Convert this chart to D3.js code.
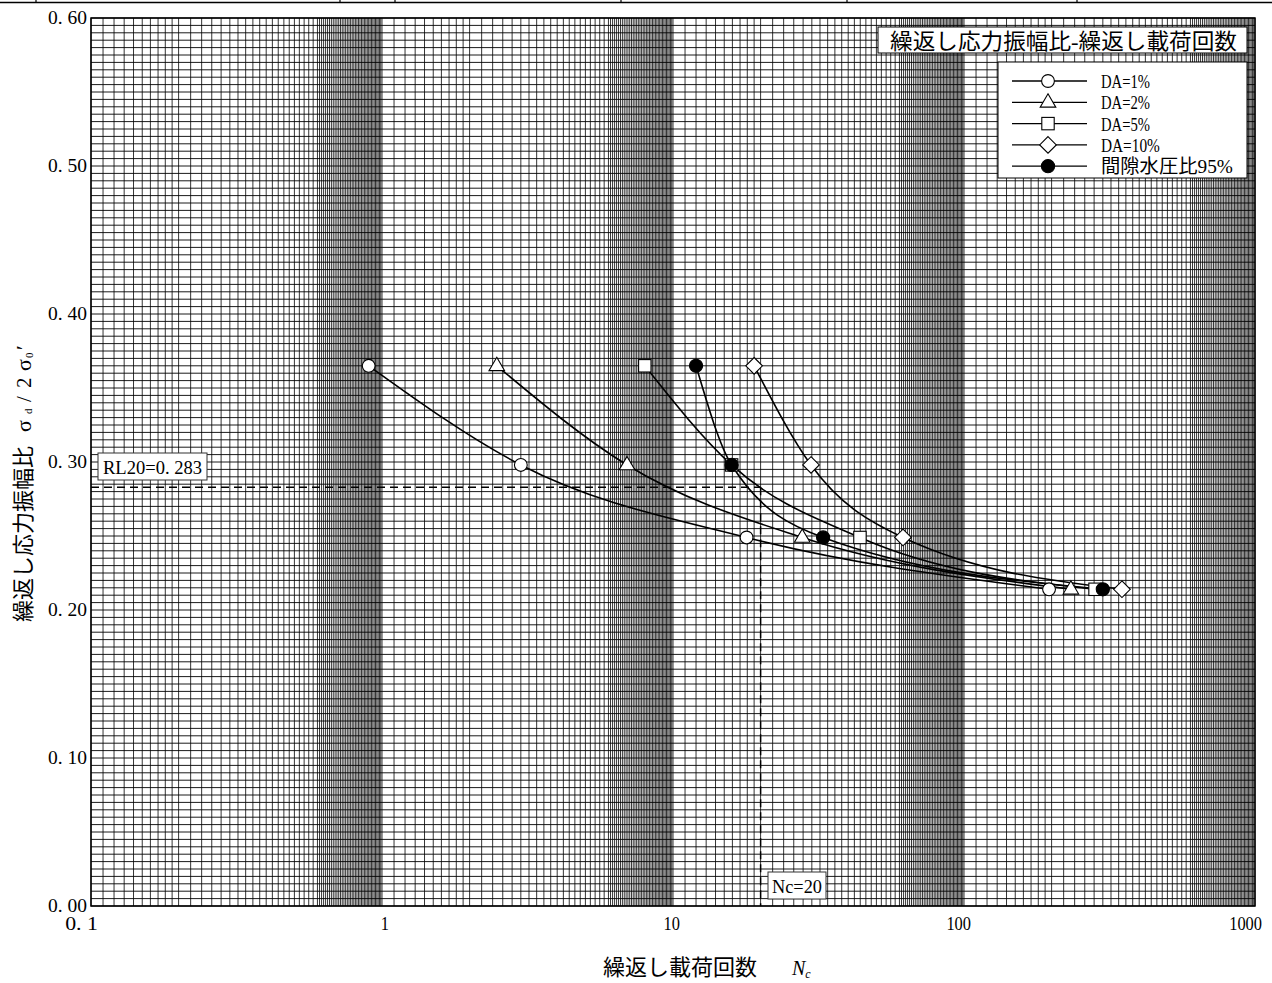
<!DOCTYPE html>
<html><head><meta charset="utf-8">
<script src="https://cdn.jsdelivr.net/npm/d3@7"></script>
<style>body{margin:0;background:#fff} svg{display:block}</style>
</head><body>
<svg id="chart" width="1272" height="983"></svg>
<script>
// ---------------- data ----------------
const yTicks = [0, 0.1, 0.2, 0.3, 0.4, 0.5, 0.6];
const yTickLabels = ["0. 00", "0. 10", "0. 20", "0. 30", "0. 40", "0. 50", "0. 60"];
const xTicks = [0.1, 1, 10, 100, 1000];
const xTickLabels = ["0. 1", "1", "10", "100", "1000"];
const stressRatio = [0.365, 0.298, 0.249, 0.214];
const ncDA1 = [0.90, 3.00, 17.9, 196];
const ncDA2 = [2.48, 6.95, 27.8, 233];
const ncDA5 = [8.0, 15.9, 43.9, 282];
const ncDA10 = [19.0, 29.8, 61.7, 349];
const ncPP95 = [12.0, 15.9, 32.8, 300];
const seriesNames = ["DA=1%", "DA=2%", "DA=5%", "DA=10%", "間隙水圧比95%"];
const seriesSymbols = ["circle", "triangle", "square", "diamond", "dot"];
const rl20 = 0.283;
const ncRef = 20;
const rlLabel = "RL20=0. 283";
const ncLabel = "Nc=20";
const chartTitle = "繰返し応力振幅比-繰返し載荷回数";
const xTitle = "繰返し載荷回数";
const yTitle = "繰返し応力振幅比";
const headerTicks = [36, 340, 395, 621, 847, 1077];

// ---------------- layout ----------------
const W = 1272, H = 983;
const L = 91, R = 1255, T = 18, B = 906;
const LAT = "'Liberation Serif','DejaVu Serif',serif";
const CJK = "'Liberation Serif','Noto Sans CJK JP',serif";

const svg = d3.select("#chart");
const x = d3.scaleLog().domain([0.1, 1000]).range([L, R]);
const y = d3.scaleLinear().domain([0, 0.6]).range([B, T]);

// header rule at top of page
svg.append("line").attr("x1", 0).attr("x2", W).attr("y1", 2.5).attr("y2", 2.5)
  .attr("stroke", "#000").attr("stroke-width", 1.5);
svg.selectAll(".htick").data(headerTicks).join("line")
  .attr("x1", d => d).attr("x2", d => d).attr("y1", 0).attr("y2", 3)
  .attr("stroke", "#000").attr("stroke-width", 1.2);

// ---------------- grid ----------------
const vGrid = [];
[0.1, 1, 10, 100].forEach(d => {
  for (let k = 10; k < 20; k++) vGrid.push(d * k / 10);
  for (let k = 20; k < 60; k += 2) vGrid.push(d * k / 10);
  for (let k = 60; k < 100; k++) vGrid.push(d * k / 10);
});
vGrid.push(1000);
const hGrid = d3.range(0, 121).map(i => i * 0.005);

const g = svg.append("g");
g.selectAll(".vg").data(vGrid).join("line")
  .attr("x1", d => x(d)).attr("x2", d => x(d)).attr("y1", T).attr("y2", B)
  .attr("stroke", "#000").attr("stroke-width", 0.8);
g.selectAll(".hg").data(hGrid).join("line")
  .attr("x1", L).attr("x2", R).attr("y1", d => y(d)).attr("y2", d => y(d))
  .attr("stroke", "#000").attr("stroke-width", 0.9);
svg.append("rect").attr("x", L).attr("y", T).attr("width", R - L).attr("height", B - T)
  .attr("fill", "none").attr("stroke", "#000").attr("stroke-width", 1.5);

// ---------------- helpers ----------------
function fitWidth(text, fs, halfW) {
  let w = 0;
  for (const ch of text) w += ch.charCodeAt(0) > 0x2000 ? fs : halfW;
  return w;
}

// tick labels
svg.selectAll(".yl").data(yTicks).join("text")
  .attr("x", 87).attr("y", d => y(d) + 6)
  .attr("text-anchor", "end").attr("font-family", LAT).attr("font-size", 18)
  .attr("textLength", (d, i) => fitWidth(yTickLabels[i], 18, 7.8))
  .attr("lengthAdjust", "spacingAndGlyphs")
  .text((d, i) => yTickLabels[i]);
svg.selectAll(".xl").data(xTicks).join("text")
  .attr("x", d => x(d) + 7).attr("y", 930)
  .attr("text-anchor", "end").attr("font-family", LAT).attr("font-size", 18)
  .attr("textLength", (d, i) => fitWidth(xTickLabels[i], 18, 8.2))
  .attr("lengthAdjust", "spacingAndGlyphs")
  .text((d, i) => xTickLabels[i]);

// axis titles
const xt = svg.append("text").attr("x", 603).attr("y", 975)
  .attr("font-family", CJK).attr("font-size", 22).attr("fill", "#000");
xt.append("tspan").text(xTitle);
xt.append("tspan").attr("x", 792).attr("font-family", LAT).attr("font-style", "italic")
  .attr("font-size", 20).text("N");
xt.append("tspan").attr("font-family", LAT).attr("font-style", "italic")
  .attr("font-size", 12).attr("dy", 3).text("c");

const yt = svg.append("text").attr("transform", "translate(31,622) rotate(-90)")
  .attr("font-family", CJK).attr("font-size", 22).attr("fill", "#000");
yt.append("tspan").text(yTitle);
yt.append("tspan").attr("x", 190).attr("font-family", LAT).attr("font-size", 22).text("σ");
yt.append("tspan").attr("x", 208).attr("font-size", 11).attr("font-family", LAT).attr("dy", 1).text("d");
yt.append("tspan").attr("x", 220).attr("dy", -1).attr("font-family", LAT).attr("font-size", 21).text("/");
yt.append("tspan").attr("x", 234).attr("font-family", LAT).attr("font-size", 21).text("2");
yt.append("tspan").attr("x", 251).attr("font-family", LAT).attr("font-size", 22).text("σ");
yt.append("tspan").attr("x", 264).attr("font-size", 11).attr("font-family", LAT).attr("dy", 2).text("0");
yt.append("tspan").attr("x", 272).attr("dy", -2).attr("font-family", LAT).attr("font-size", 22).text("′");

// ---------------- reference lines ----------------
svg.append("line").attr("x1", L).attr("x2", x(ncRef)).attr("y1", y(rl20)).attr("y2", y(rl20))
  .attr("stroke", "#000").attr("stroke-width", 1.5).attr("stroke-dasharray", "8,5");
svg.append("line").attr("x1", x(ncRef)).attr("x2", x(ncRef)).attr("y1", y(rl20)).attr("y2", B)
  .attr("stroke", "#000").attr("stroke-width", 1.5).attr("stroke-dasharray", "8,5");

function labelBox(bx, by, bw, bh, text, fs, tw, tx, ty, fontFam) {
  svg.append("rect").attr("x", bx).attr("y", by).attr("width", bw).attr("height", bh)
    .attr("fill", "#fff").attr("stroke", "#333").attr("stroke-width", 1);
  svg.append("text").attr("x", tx).attr("y", ty).attr("font-family", fontFam)
    .attr("font-size", fs).attr("textLength", tw).attr("lengthAdjust", "spacingAndGlyphs")
    .text(text);
}
labelBox(98, 453, 109, 27, rlLabel, 19, 99, 103, 474, LAT);
labelBox(768, 872, 58, 27, ncLabel, 19, 50, 772, 893, LAT);

// ---------------- series ----------------
const seriesNc = [ncDA1, ncDA2, ncDA5, ncDA10, ncPP95];
const lineGen = d3.line().x(d => x(d[0])).y(d => y(d[1])).curve(d3.curveMonotoneX);

function drawMarker(sel, type, cx, cy) {
  let el;
  if (type === "circle" || type === "dot") {
    el = sel.append("circle").attr("cx", cx).attr("cy", cy).attr("r", type === "dot" ? 6.6 : 6.4);
  } else if (type === "triangle") {
    el = sel.append("path").attr("d", `M${cx},${cy - 8.5}L${cx + 7.8},${cy + 4.8}L${cx - 7.8},${cy + 4.8}Z`);
  } else if (type === "square") {
    el = sel.append("rect").attr("x", cx - 6.2).attr("y", cy - 6.2).attr("width", 12.4).attr("height", 12.4);
  } else {
    el = sel.append("path").attr("d", `M${cx},${cy - 8.3}L${cx + 8.3},${cy}L${cx},${cy + 8.3}L${cx - 8.3},${cy}Z`);
  }
  el.attr("fill", type === "dot" ? "#000" : "#fff").attr("stroke", "#000").attr("stroke-width", 1.1);
}

const lines = svg.append("g");
seriesNc.forEach((nc, s) => {
  const pts = nc.map((n, i) => [n, stressRatio[i]]);
  lines.append("path").attr("d", lineGen(pts)).attr("fill", "none")
    .attr("stroke", "#000").attr("stroke-width", 1.6);
});
const marks = svg.append("g");
seriesNc.forEach((nc, s) => {
  nc.forEach((n, i) => drawMarker(marks, seriesSymbols[s], x(n), y(stressRatio[i])));
});

// ---------------- title box ----------------
svg.append("rect").attr("x", 878).attr("y", 27).attr("width", 369).attr("height", 26)
  .attr("fill", "#fff").attr("stroke", "#000").attr("stroke-width", 1);
svg.append("text").attr("x", 890).attr("y", 49).attr("font-family", CJK).attr("font-size", 22)
  .attr("textLength", 347).attr("lengthAdjust", "spacingAndGlyphs").text(chartTitle);

// ---------------- legend ----------------
svg.append("rect").attr("x", 998).attr("y", 62).attr("width", 249).attr("height", 116)
  .attr("fill", "#fff").attr("stroke", "#000").attr("stroke-width", 1);
const leg = svg.append("g");
seriesNames.forEach((name, i) => {
  const ly = 81 + i * 21.3;
  leg.append("line").attr("x1", 1012).attr("x2", 1087).attr("y1", ly).attr("y2", ly)
    .attr("stroke", "#000").attr("stroke-width", 1.3);
  drawMarker(leg, seriesSymbols[i], 1048, ly);
  leg.append("text").attr("x", 1101).attr("y", ly + 7).attr("font-family", CJK).attr("font-size", 19)
    .attr("textLength", fitWidth(name, 20.5, 9.8)).attr("lengthAdjust", "spacingAndGlyphs")
    .text(name);
});
</script>
</body></html>
